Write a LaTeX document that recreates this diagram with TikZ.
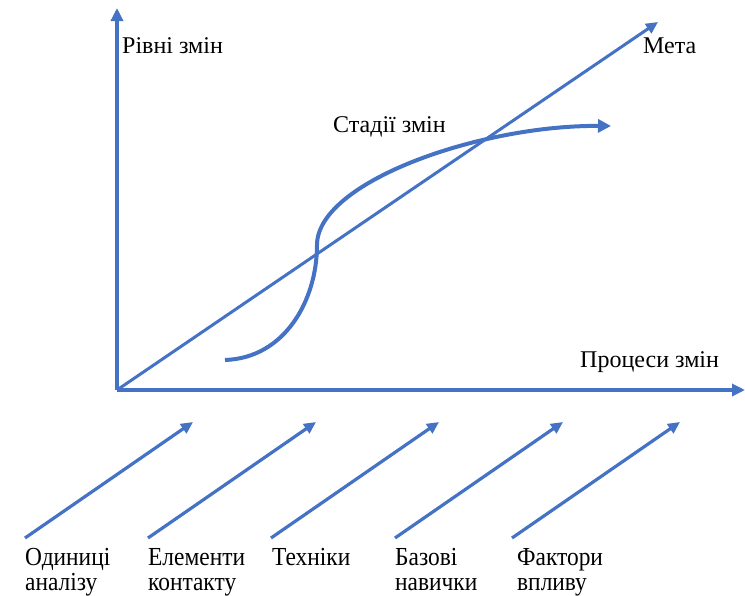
\documentclass[tikz,border=0pt]{standalone}
\usepackage{fontspec}
\setmainfont{Liberation Serif}
\newfontfamily\narrowserif[FakeStretch=0.9]{Liberation Serif}
\usetikzlibrary{arrows.meta}
\definecolor{ofblue}{HTML}{4472C4}
\tikzset{
  axis/.style={draw=ofblue, line width=3.5pt, -{Triangle[length=13pt,width=12pt]}},
  goal/.style={draw=ofblue, line width=3pt, -{Triangle[length=12pt,width=11pt]}},
  stage/.style={draw=ofblue, line width=4pt, -{Triangle[length=13pt,width=13pt]}},
  factor/.style={draw=ofblue, line width=3.2pt, -{Triangle[length=12pt,width=11pt]}},
  lbl/.style={inner sep=0pt, anchor=base west, font=\fontsize{24}{26}\selectfont, text=black},
  blbl/.style={inner sep=0pt, anchor=base west, align=left, font=\narrowserif\fontsize{26}{25}\selectfont, text=black},
}
\begin{document}
\begin{tikzpicture}[x=1pt,y=-1pt]
\useasboundingbox (0,0) rectangle (745,595);
% axes
\coordinate (O) at (117,390);
\coordinate (Ytip) at (117,8);
\coordinate (Xtip) at (745,390);
\coordinate (Mtip) at (658,22);
\draw[axis] (O) -- (Ytip);
\draw[axis] (O) -- (Xtip);
\draw[goal] (O) -- (Mtip);
% S-curve
\coordinate (S0) at (225,360);
\coordinate (S1) at (317,245);
\coordinate (S2) at (611,126);
\draw[stage] (S0) .. controls (285,358) and (317,300) .. (S1)
  .. controls (317,182) and (480,125) .. (S2);
% labels
\node[lbl] (levels) at (122,53) {Рівні змін};
\node[lbl] (goal) at (643,53) {Мета};
\node[lbl] (stages) at (333,132) {Стадії змін};
\node[lbl] (procs) at (580,367) {Процеси змін};
% bottom factor arrows
\foreach \i/\x in {1/25,2/148,3/271,4/395,5/512}{
  \coordinate (F\i s) at (\x,538);
  \coordinate (F\i e) at (\x+168,422);
  \draw[factor] (F\i s) -- (F\i e);
}
\node[blbl] (f1) at (25,590) {Одиниці\\аналізу};
\node[blbl] (f2) at (148,590) {Елементи\\контакту};
\node[blbl] (f3) at (272,565) {Техніки};
\node[blbl] (f4) at (395,590) {Базові\\навички};
\node[blbl] (f5) at (517,590) {Фактори\\впливу};
\end{tikzpicture}
\end{document}
